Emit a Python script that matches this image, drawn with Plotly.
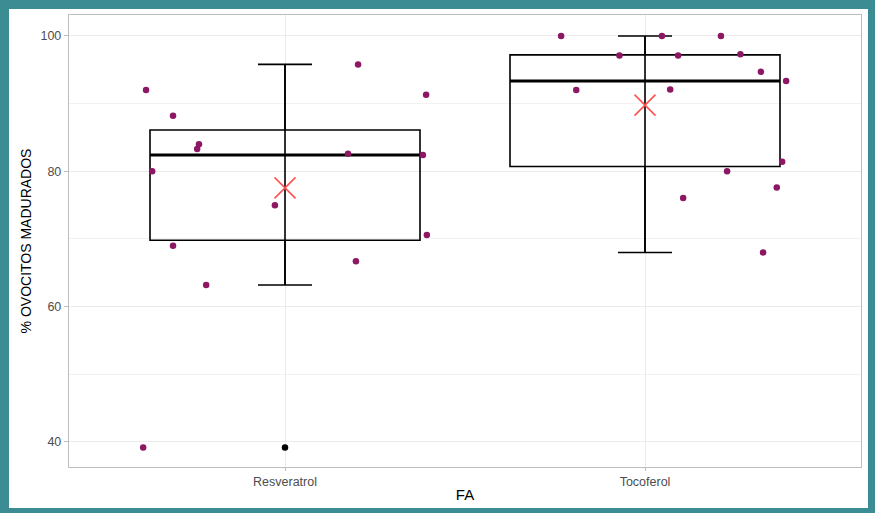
import numpy as np
import plotly.graph_objects as go

# ---- data ----
categories = ["Resveratrol", "Tocoferol"]
resveratrol_values = [92.0, 88.2, 84.0, 83.3, 80.0, 69.0, 63.2, 75.0, 95.8, 82.6, 91.3, 82.4, 70.6, 66.7, 39.2]
resveratrol_jitter = [-0.386, -0.311, -0.239, -0.244, -0.369, -0.311, -0.219, -0.028, 0.203, 0.175, 0.392, 0.383, 0.394, 0.197, -0.394]
tocoferol_values = [100.0, 100.0, 100.0, 97.1, 97.1, 97.3, 94.7, 93.35, 92.0, 92.1, 81.4, 80.0, 77.6, 76.05, 68.0]
tocoferol_jitter = [-0.233, 0.047, 0.211, -0.071, 0.092, 0.265, 0.322, 0.392, -0.191, 0.070, 0.381, 0.228, 0.366, 0.106, 0.328]
y_ticks = [40, 60, 80, 100]

groups = [(resveratrol_values, resveratrol_jitter), (tocoferol_values, tocoferol_jitter)]

FONT = "Liberation Sans, Arial, sans-serif"
POINT_COLOR = "#8C1762"
MEAN_COLOR = "#FF4D4D"
BOX_W = 0.75

fig = go.Figure()

for i, (vals, jit) in enumerate(groups):
    xc = i + 1
    v = np.array(vals)
    q1, med, q3 = np.percentile(v, [25, 50, 75])
    iqr = q3 - q1
    inside = v[(v >= q1 - 1.5 * iqr) & (v <= q3 + 1.5 * iqr)]
    lo, hi = inside.min(), inside.max()
    outliers = v[(v < q1 - 1.5 * iqr) | (v > q3 + 1.5 * iqr)]

    # full whisker line (errorbar style through the box)
    fig.add_trace(go.Scatter(x=[xc, xc], y=[lo, hi], mode="lines",
                             line=dict(color="black", width=1.6),
                             showlegend=False, hoverinfo="skip"))
    # box from precomputed statistics
    fig.add_trace(go.Box(x=[xc], q1=[q1], median=[med], q3=[q3],
                         lowerfence=[lo], upperfence=[hi],
                         width=BOX_W, whiskerwidth=0.2,
                         fillcolor="rgba(0,0,0,0)",
                         line=dict(color="black", width=1.6),
                         boxpoints=False, showlegend=False))
    # thicker median
    fig.add_trace(go.Scatter(x=[xc - BOX_W / 2, xc + BOX_W / 2], y=[med, med], mode="lines",
                             line=dict(color="black", width=3),
                             showlegend=False, hoverinfo="skip"))
    # outliers
    if len(outliers):
        fig.add_trace(go.Scatter(x=[xc] * len(outliers), y=outliers, mode="markers",
                                 marker=dict(color="black", size=6.5),
                                 showlegend=False))
    # jittered points
    fig.add_trace(go.Scatter(x=[xc + j for j in jit], y=v, mode="markers",
                             marker=dict(color=POINT_COLOR, size=6.5),
                             showlegend=False))
    # mean
    fig.add_trace(go.Scatter(x=[xc], y=[v.mean()], mode="markers",
                             marker=dict(symbol="x-thin", size=21,
                                         line=dict(color=MEAN_COLOR, width=1.5)),
                             showlegend=False))

# frame geometry (pixels -> paper)
L, R, T, B = 69, 861, 15, 467
W, H = 875, 513
pw, ph = R - L, B - T
def px(x):
    return (x - L) / pw
def py(y):
    return (B - y) / ph

fig.add_shape(type="rect", xref="paper", yref="paper",
              x0=px(9), x1=px(868), y0=py(508), y1=py(9),
              fillcolor="white", line=dict(width=0), layer="below")

fig.update_layout(
    width=W, height=H,
    margin=dict(l=L, r=W - R, t=T, b=H - B, pad=0, autoexpand=False),
    paper_bgcolor="#3C8C93",
    plot_bgcolor="white",
    font=dict(family=FONT, color="#4D4D4D", size=12),
)

fig.update_xaxes(
    range=[0.4, 2.6], tickvals=[1, 2], ticktext=categories,
    showgrid=True, gridcolor="#EBEBEB", gridwidth=1.1,
    showline=True, linecolor="#BDBDBD", linewidth=1.4, mirror=True,
    ticks="outside", ticklen=3, tickcolor="#BDBDBD", tickwidth=1,
    tickfont=dict(size=12.5, color="#4D4D4D"),
    title=dict(text="FA", font=dict(size=15, color="black"), standoff=1),
    zeroline=False,
)
fig.update_yaxes(
    range=[36.3, 103.1], tickvals=y_ticks,
    showgrid=True, gridcolor="#EBEBEB", gridwidth=1.1,
    minor=dict(dtick=10, tick0=0, showgrid=True, gridcolor="#F2F2F2", gridwidth=0.8),
    showline=True, linecolor="#BDBDBD", linewidth=1.4, mirror=True,
    ticks="outside", ticklen=4, tickcolor="#BDBDBD", tickwidth=1,
    tickfont=dict(size=12.5, color="#4D4D4D"),
    title=dict(text="% OVOCITOS MADURADOS", font=dict(size=14, color="black"), standoff=5),
    zeroline=False,
)

fig.write_html("out.html", config={"displayModeBar": False},
               post_script="document.body.style.margin='0';document.body.style.overflow='hidden';")
